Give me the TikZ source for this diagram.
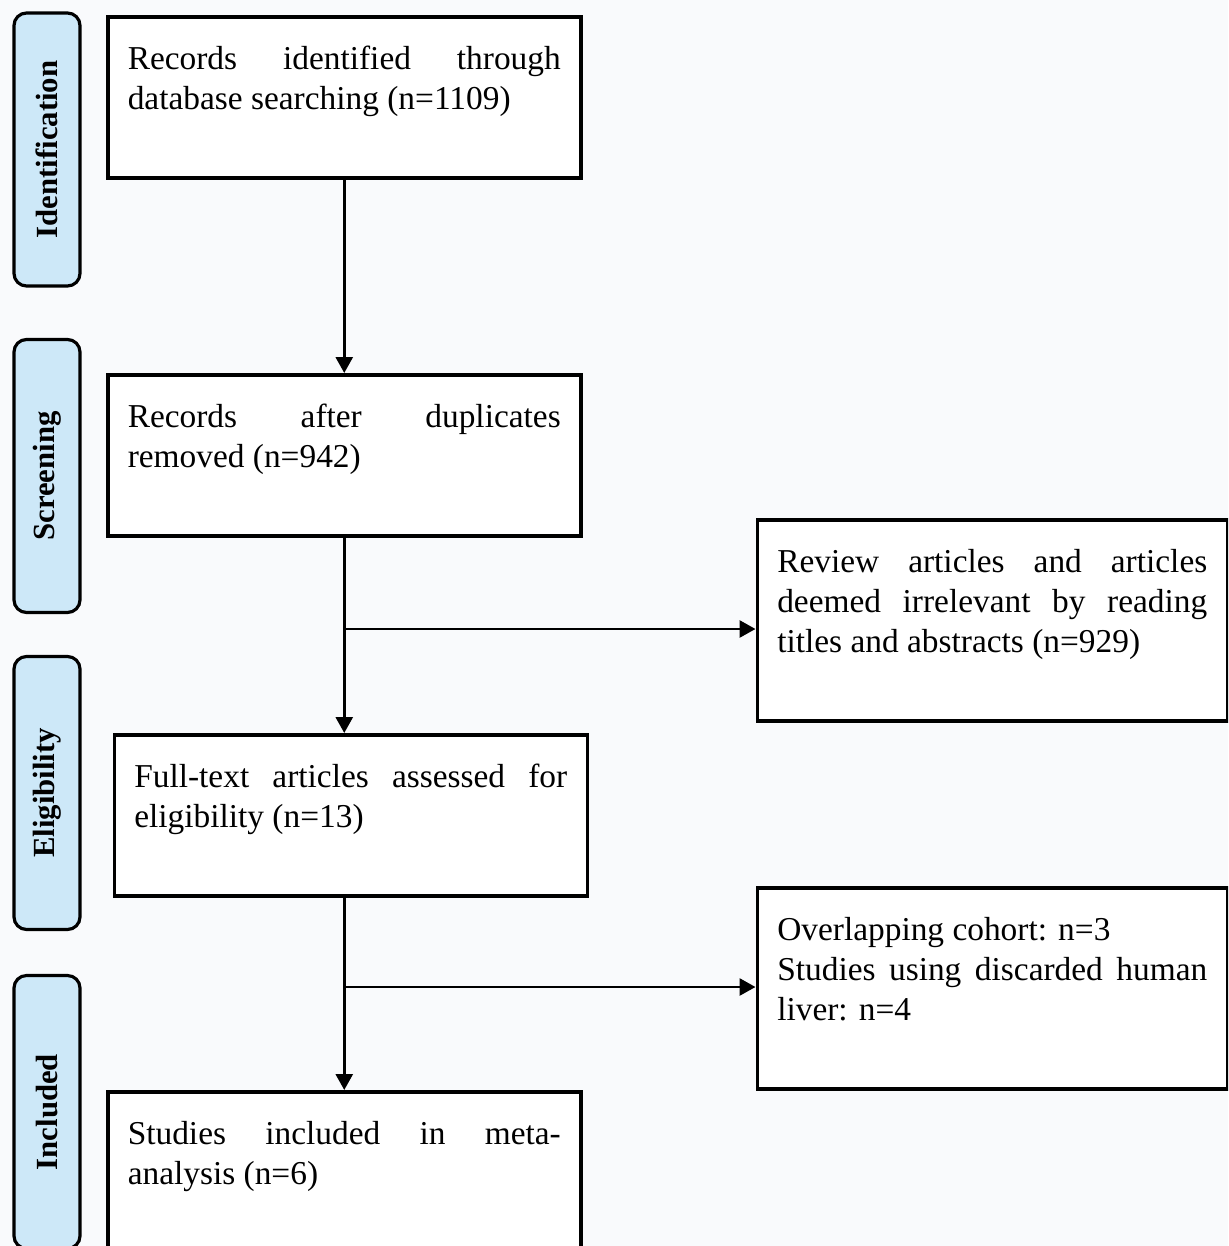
\documentclass[tikz,border=0pt]{standalone}
\usepackage{fontspec}
\setmainfont{Liberation Serif}
\usetikzlibrary{arrows.meta}
\definecolor{pagebg}{RGB}{249,250,252}
\definecolor{stageblue}{RGB}{205,232,248}
\tikzstyle{stage} = [rectangle, rounded corners=0.25cm, rotate=90, minimum width=5.46cm, minimum height=1.32cm, line width=1.8pt, draw=black, fill=stageblue, font=\fontsize{17.5}{20}\selectfont\bfseries]
\tikzstyle{mainbox} = [rectangle, anchor=north west, text width=8.66cm, inner xsep=0.4cm, inner ysep=0.3cm, text height=0.76cm, text depth=1.86cm, align=justify, line width=2pt, draw=black, fill=white, font=\fontsize{19}{22.8}\selectfont]
\tikzstyle{sidebox} = [mainbox, text width=8.6cm, text depth=2.66cm]
\tikzstyle{arrow} = [line width=1.6pt, -{Triangle[length=0.32cm, width=0.34cm]}]

\begin{document}
\begin{tikzpicture}
    \useasboundingbox[fill=pagebg] (0,0) rectangle (24.56,-24.92);
    \clip (0,0) rectangle (24.56,-24.92);

    \node (ident-stage) [stage] at (0.94,-2.99) {Identification};
    \node (screen-stage) [stage] at (0.94,-9.52) {Screening};
    \node (elig-stage) [stage] at (0.94,-15.86) {Eligibility};
    \node (incl-stage) [stage] at (0.94,-22.24) {Included};

    \node (rec-ident) [mainbox] at (2.12,-0.30) {Records identified through\linebreak database searching (n=1109)};
    \node (rec-screen) [mainbox] at (2.12,-7.46) {Records after duplicates\linebreak removed (n=942)};
    \node (rec-full) [mainbox] at (2.25,-14.66) {Full-text articles assessed for\linebreak eligibility (n=13)};
    \node (rec-incl) [mainbox] at (2.12,-21.80) {Studies included in meta-\linebreak analysis (n=6)};

    \node (excl-title) [sidebox] at (15.11,-10.36) {Review articles and articles\linebreak deemed irrelevant by reading\linebreak titles and abstracts (n=929)};
    \node (excl-full) [sidebox] at (15.11,-17.72) {Overlapping cohort: n=3\\ Studies using discarded human\linebreak liver: n=4};

    \coordinate (split-title) at (6.86,-12.58);
    \coordinate (split-full) at (6.86,-19.74);

    \draw [arrow] (rec-ident) -- (rec-screen);
    \draw [arrow] (rec-screen.south) -- (rec-screen.south |- rec-full.north);
    \draw [arrow] (rec-full.south -| rec-incl.north) -- (rec-incl.north);

    \draw [arrow] (split-title) -- (split-title -| excl-title.west);
    \draw [arrow] (split-full) -- (split-full -| excl-full.west);
\end{tikzpicture}
\end{document}
